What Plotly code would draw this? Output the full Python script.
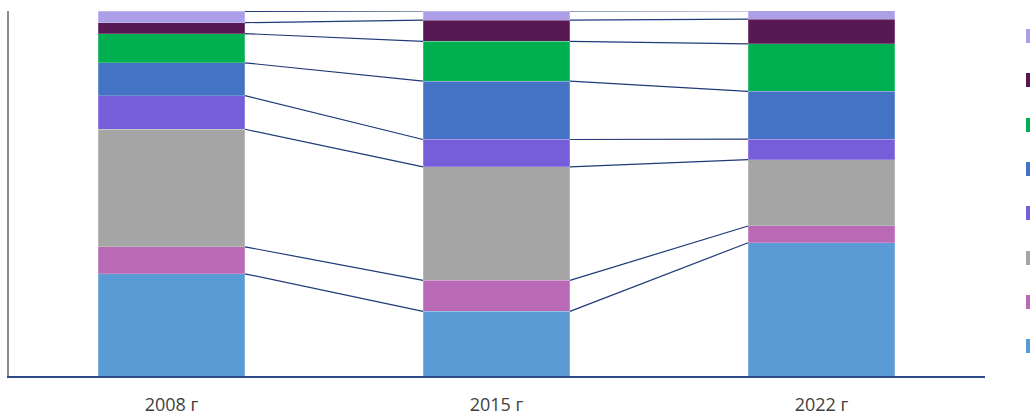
import plotly.graph_objects as go

years = ["2008 г", "2015 г", "2022 г"]
# shares by series, bottom to top (percent)
s1 = [28.0, 17.7, 36.5]   # light blue
s2 = [7.4, 8.5, 4.6]      # pink
s3 = [32.2, 31.1, 18.2]   # gray
s4 = [9.2, 7.5, 5.6]      # purple
s5 = [9.0, 16.0, 13.1]    # blue
s6 = [8.0, 10.9, 13.0]    # green
s7 = [3.0, 5.8, 6.8]      # dark purple
s8 = [3.1, 2.5, 2.3]      # lavender

series = [s1, s2, s3, s4, s5, s6, s7, s8]
colors = ["#5B9BD5", "#BA69B6", "#A5A5A5", "#765DDA", "#4472C4",
          "#00B050", "#581854", "#AC9FE8"]

W, H = 1030, 416
ml, mr, mt, mb = 9, 45, 11, 40
bar_w = 0.452
xs = list(range(len(years)))

fig = go.Figure()
for vals, col in zip(series, colors):
    fig.add_trace(go.Bar(x=xs, y=vals, width=bar_w,
                         marker=dict(color=col, line=dict(color="rgba(255,255,255,0.35)", width=0.6)),
                         showlegend=False, hoverinfo="skip"))

# series lines between bars
cum = [0.0] * len(years)
for vals in series:
    cum = [c + v for c, v in zip(cum, vals)]
    for j in range(len(years) - 1):
        fig.add_trace(go.Scatter(x=[xs[j] + bar_w / 2, xs[j + 1] - bar_w / 2],
                                 y=[cum[j], cum[j + 1]], mode="lines",
                                 line=dict(color="#1F3A78", width=1.2),
                                 showlegend=False, hoverinfo="skip"))

# legend keys (their text falls outside the visible window)
pw = W - ml - mr
ph = H - mt - mb
key_x0 = 1026
key_centers = [36, 80, 125, 169, 213, 258, 302, 346]
for cy, col in zip(key_centers, reversed(colors)):
    fig.add_shape(type="rect", xref="paper", yref="paper",
                  x0=(key_x0 - ml) / pw, x1=(key_x0 + 14 - ml) / pw,
                  y0=(H - mb - (cy + 7)) / ph, y1=(H - mb - (cy - 7)) / ph,
                  fillcolor=col, line=dict(width=0), layer="above")

fig.update_layout(
    width=W, height=H,
    margin=dict(l=ml, r=mr, t=mt, b=mb, autoexpand=False),
    barmode="stack",
    plot_bgcolor="white", paper_bgcolor="white",
    showlegend=False,
    font=dict(family="Open Sans", color="#404040"),
)
fig.update_xaxes(range=[-0.5, 2.503], tickvals=xs, ticktext=years,
                 showline=True, linecolor="#2E4A8C", linewidth=2,
                 showgrid=False, zeroline=False, ticks="",
                 tickfont=dict(size=18, color="#404040"), ticklabelstandoff=11)
fig.update_yaxes(range=[0, 100], showline=True, linecolor="#8C8C8C", linewidth=2,
                 showgrid=False, zeroline=False, showticklabels=False, ticks="")

fig.write_html("out.html", config={"displayModeBar": False},
               post_script="document.body.style.margin='0';document.body.style.overflow='hidden';")
